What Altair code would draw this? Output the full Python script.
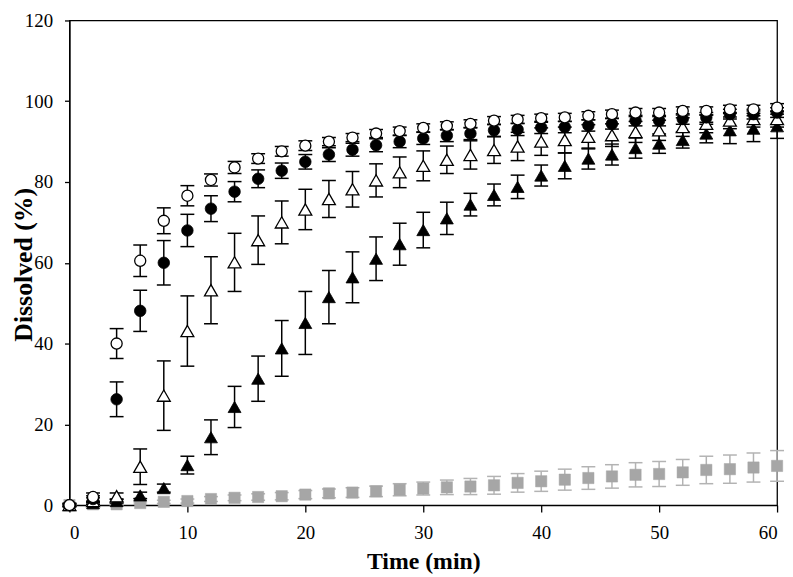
import altair as alt
import pandas as pd

# Time points (min)
times = [0, 2, 4, 6, 8, 10, 12, 14, 16, 18, 20, 22, 24, 26, 28, 30,
         32, 34, 36, 38, 40, 42, 44, 46, 48, 50, 52, 54, 56, 58, 60]

# Open circles
oc_val = [0, 2.0, 40.0, 60.5, 70.4, 76.6, 80.5, 83.6, 85.8, 87.6, 89.0, 90.0, 91.0, 92.0, 92.6, 93.4,
          93.9, 94.4, 95.2, 95.5, 95.8, 96.0, 96.4, 96.8, 97.2, 97.2, 97.6, 97.6, 98.0, 98.0, 98.4]
oc_err = [0.5, 1.0, 3.7, 3.9, 3.2, 2.5, 1.5, 1.5, 1.2, 1.2, 1.2, 1.0, 1.0, 1.0, 1.0, 1.0,
          1.0, 1.0, 1.0, 1.0, 1.0, 1.0, 1.0, 1.0, 1.0, 1.0, 1.0, 1.0, 1.0, 1.0, 1.0]

# Filled circles
fc_val = [0, 1.5, 26.2, 48.1, 60.0, 68.0, 73.4, 77.6, 80.8, 82.8, 85.0, 86.8, 88.0, 89.1, 90.0, 90.8,
          91.5, 92.0, 92.8, 93.0, 93.5, 93.6, 94.0, 94.4, 95.2, 95.2, 95.6, 96.0, 96.8, 96.8, 97.2]
fc_err = [0.3, 0.8, 4.3, 5.1, 5.5, 4.0, 3.2, 2.5, 2.2, 1.9, 1.8, 1.7, 1.6, 1.6, 1.5, 1.5,
          1.5, 1.5, 1.5, 1.5, 1.5, 1.4, 1.4, 1.3, 1.3, 1.3, 1.3, 1.2, 1.2, 1.2, 1.2]

# Open triangles
ot_val = [0, 1.0, 2.2, 9.5, 27.1, 43.1, 53.2, 60.1, 65.6, 70.0, 73.2, 75.8, 78.2, 80.4, 82.4, 84.0,
          85.5, 86.7, 87.9, 88.8, 90.0, 90.4, 91.2, 91.6, 92.4, 92.8, 93.6, 94.4, 95.2, 95.6, 95.6]
ot_err = [0.3, 0.8, 0.8, 4.4, 8.6, 8.7, 8.3, 7.2, 6.0, 5.3, 5.0, 4.6, 4.4, 4.1, 3.8, 3.7,
          3.4, 3.5, 3.3, 3.5, 3.4, 3.2, 3.0, 2.8, 2.6, 2.5, 2.3, 2.2, 2.0, 2.0, 2.0]

# Filled triangles
ft_val = [0, 0.5, 1.0, 2.4, 4.2, 9.9, 16.8, 24.3, 31.3, 38.8, 45.1, 51.5, 56.4, 61.0, 64.6, 68.1,
          71.0, 74.4, 76.8, 78.8, 81.6, 84.0, 85.8, 86.8, 88.4, 89.5, 90.4, 92.0, 92.8, 93.2, 93.8]
ft_err = [0.2, 0.3, 0.5, 0.8, 1.0, 2.2, 4.3, 5.1, 5.6, 6.9, 7.8, 6.6, 6.3, 5.4, 5.2, 4.4,
          4.0, 2.8, 2.7, 2.9, 2.6, 3.2, 2.6, 2.6, 2.5, 2.4, 2.0, 2.3, 3.3, 3.2, 3.0]

# Grey squares
gs_val = [0, 0.2, 0.2, 0.5, 0.8, 1.0, 1.5, 1.8, 2.0, 2.2, 2.6, 2.9, 3.1, 3.4, 3.8, 4.1,
          4.4, 4.6, 4.9, 5.5, 5.9, 6.3, 6.7, 7.1, 7.5, 7.7, 8.1, 8.7, 8.9, 9.3, 9.7]
gs_err = [0.1, 0.2, 0.2, 0.3, 0.4, 0.5, 0.6, 0.7, 0.8, 0.9, 1.0, 1.1, 1.2, 1.3, 1.5, 1.6,
          1.8, 2.0, 2.2, 2.3, 2.5, 2.6, 2.8, 2.9, 3.0, 3.1, 3.2, 3.4, 3.5, 3.6, 3.8]

series = [
    ("gs", gs_val, gs_err, dict(shape="square", fill="#a6a6a6", stroke="#a6a6a6", sw=0.5, size=130, ec="#b3b3b3")),
    ("ft", ft_val, ft_err, dict(shape="triangle-up", fill="black", stroke="black", sw=0.8, size=170, ec="black")),
    ("ot", ot_val, ot_err, dict(shape="triangle-up", fill="white", stroke="black", sw=1.3, size=170, ec="black")),
    ("fc", fc_val, fc_err, dict(shape="circle", fill="black", stroke="black", sw=0.8, size=135, ec="black")),
    ("oc", oc_val, oc_err, dict(shape="circle", fill="white", stroke="black", sw=1.3, size=125, ec="black")),
]

FONT = "Liberation Serif"
xscale = alt.Scale(domain=[0, 60], nice=False, zero=False)
yscale = alt.Scale(domain=[0, 120], nice=False)
xaxis = alt.Axis(values=[0, 10, 20, 30, 40, 50, 60], tickSize=7, labelPadding=12,
                 labelFontSize=19, labelFont=FONT, title="Time (min)", titleFont=FONT,
                 titleFontSize=24, titleFontWeight="bold", titleY=64, titleBaseline="alphabetic",
                 grid=False)
yaxis = alt.Axis(values=[0, 20, 40, 60, 80, 100, 120], tickSize=5, labelPadding=12,
                 labelFontSize=19, labelFont=FONT, title="Dissolved (%)", titleFont=FONT,
                 titleFontSize=26, titleFontWeight="bold", titleX=-38, titleY=246,
                 titleAngle=-90, titleBaseline="alphabetic", grid=False)


def X():
    return alt.X("t:Q", scale=xscale, axis=xaxis, title="Time (min)")


def Y(field):
    return alt.Y(field, type="quantitative", scale=yscale, axis=yaxis, title="Dissolved (%)")


layers = []
for name, vals, errs, st in series:
    df = pd.DataFrame({
        "t": times,
        "v": vals,
        "lo": [v - e for v, e in zip(vals, errs)],
        "hi": [v + e for v, e in zip(vals, errs)],
    })
    base = alt.Chart(df)
    rule = base.mark_rule(color=st["ec"], strokeWidth=1.5).encode(
        x=X(), y=Y("lo"), y2=alt.Y2("hi"))
    cap_lo = base.mark_tick(orient="horizontal", size=14, thickness=1.5, color=st["ec"], opacity=1).encode(
        x=X(), y=Y("lo"))
    cap_hi = base.mark_tick(orient="horizontal", size=14, thickness=1.5, color=st["ec"], opacity=1).encode(
        x=X(), y=Y("hi"))
    pts = base.mark_point(shape=st["shape"], filled=True, fill=st["fill"], stroke=st["stroke"],
                          strokeWidth=st["sw"], size=st["size"], opacity=1).encode(
        x=X(), y=Y("v"))
    layers += [rule, cap_lo, cap_hi, pts]

chart = alt.layer(*layers).properties(
    width=714, height=489,
    autosize=alt.AutoSizeParams(type="none"),
    padding={"left": 62, "top": 10, "right": 8, "bottom": 72},
    background="white",
).configure_view(
    stroke="black", strokeWidth=1.3
).configure_axis(
    domainColor="black", domainWidth=1.3, tickColor="black", tickWidth=1.3,
    labelColor="black", titleColor="black"
)

chart.save("out.html", embed_options={"renderer": "svg", "actions": False})
